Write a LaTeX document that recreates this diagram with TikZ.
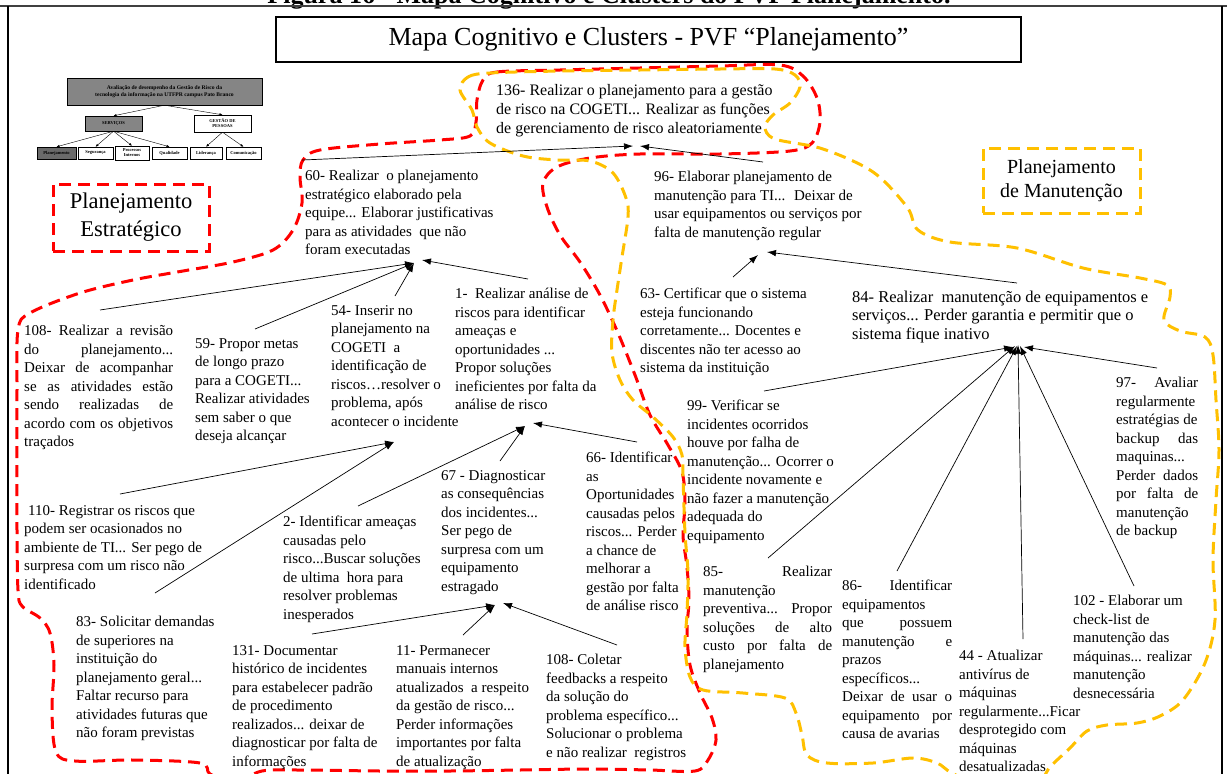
\documentclass[tikz,border=0pt]{standalone}
\usepackage{fontspec}
\setmainfont{Liberation Serif}
\usetikzlibrary{arrows.meta}
\definecolor{clred}{HTML}{FF0000}
\definecolor{clgold}{HTML}{FFC000}
\definecolor{boxgray}{HTML}{858585}
\definecolor{boxdark}{HTML}{6A6A6A}
% one justified line of a given width (pt)
\newcommand\jl[2]{\makebox[#1pt][s]{#2}}
\tikzset{
  txt/.style={anchor=north west, inner sep=0pt, align=left, font=\fontsize{15}{18.5}\selectfont},
  arr/.style={-{Latex[length=9pt,width=6.5pt]}, line width=0.7pt},
  redclu/.style={draw=clred, line width=3pt, dash pattern=on 12pt off 7pt},
  goldclu/.style={draw=clgold, line width=3pt, dash pattern=on 12pt off 7pt},
  orgbox/.style={draw, line width=0.4pt, inner sep=0pt, align=center, font=\fontsize{4.5}{5}\selectfont\bfseries},
  orgarr/.style={-{Latex[length=3pt,width=2.4pt]}, line width=0.4pt},
}
\begin{document}
\begin{tikzpicture}[x=1pt,y=-1pt]
\useasboundingbox (0,0) rectangle (1227,774);

% caption of the figure and frame
\node[anchor=base, font=\fontsize{26}{29}\selectfont\bfseries] (cap) at (609,3)
  {Figura 16 - Mapa Cognitivo e Clusters do PVF Planejamento.};
\draw[line width=1.5pt, black!75] (0,6) -- (1227,6);
\draw[line width=1.2pt] (8,6) -- (8,780);
\draw[line width=1.2pt] (1222,6) -- (1222,780);

% title
\node[draw, line width=1.1pt, minimum width=745pt, minimum height=45pt, inner sep=0pt,
      font=\fontsize{26}{30}\selectfont] (title) at (648.5,39.5)
  {Mapa Cognitivo e Clusters - PVF “Planejamento”};

% small hierarchy of the evaluation
\node[orgbox, fill=boxgray, minimum width=195pt, minimum height=27pt,
      font=\fontsize{5.6}{7}\selectfont\bfseries] (oTop) at (164.5,91.5)
  {Avaliação de desempenho da Gestão de Risco da\\tecnologia da informação na UTFPR campus Pato Branco};
\node[orgbox, fill=boxgray, minimum width=57pt, minimum height=15pt] (oServ) at (113.5,123.5) {SERVIÇOS};
\node[orgbox, fill=white, minimum width=57pt, minimum height=17pt] (oGest) at (222.5,123.5) {GESTÃO DE\\PESSOAS};
\node[orgbox, fill=boxdark, minimum width=39pt, minimum height=12pt] (oPlan) at (56.5,153) {Planejamento};
\node[orgbox, minimum width=35pt, minimum height=12pt] (oSeg) at (95.5,153) {Segurança};
\node[orgbox, minimum width=34pt, minimum height=14pt] (oProc) at (132,153) {Processos\\Internos};
\node[orgbox, minimum width=35pt, minimum height=12pt] (oQual) at (169.5,153) {Qualidade};
\node[orgbox, minimum width=32pt, minimum height=12pt] (oLid) at (206,153) {Liderança};
\node[orgbox, minimum width=35pt, minimum height=12pt] (oCom) at (243.5,153) {Comunicação};
\draw[orgarr] (oTop.south) -- (oServ.north);
\draw[orgarr] (oTop.south) -- (oGest.north);
\foreach \t in {oPlan,oSeg,oProc,oQual} \draw[orgarr] (oServ.south) -- (\t.north);
\foreach \t in {oLid,oCom} \draw[orgarr] (oGest.south) -- (\t.north);

% cluster labels
\node[redclu, minimum width=156pt, minimum height=67pt, inner sep=0pt, align=center,
      font=\fontsize{22.5}{28}\selectfont] (labE) at (131,217.5) {Planejamento\\Estratégico};
\node[goldclu, minimum width=157pt, minimum height=65pt, inner sep=0pt, align=center,
      font=\fontsize{20}{24}\selectfont] (labM) at (1061.5,180.5) {Planejamento\\de Manutenção};

% cluster boundaries
\draw[redclu] plot[smooth cycle, tension=0.55] coordinates {
  (483,80) (497,72) (560,70) (640,68) (720,66) (780,65) (803,76) (817,98) (820,122)
  (812,143) (790,151) (720,154) (640,154) (590,158) (557,167) (543,183) (547,207)
  (560,235) (580,262) (600,295) (618,333) (635,375) (650,415) (668,445) (682,472)
  (685,503) (683,535) (687,567) (689,600) (687,630) (690,665) (700,693) (712,718)
  (716,740) (708,760) (695,771) (650,770) (590,769) (520,770) (450,771) (380,771)
  (300,770) (262,771) (235,782) (210,774) (200,763) (133,760) (75,761) (56,752)
  (52,710) (54,665) (50,633) (40,618) (22,606) (18,590) (17,530) (17,460) (17,390)
  (18,330) (30,313) (80,293) (133,280) (183,271) (233,262) (273,250) (293,230)
  (302,203) (300,177) (303,160) (320,150) (380,144) (440,140) (470,136) (476,122)
  (477,100)};
\draw[goldclu] plot[smooth cycle, tension=0.55] coordinates {
  (460,90) (468,77) (490,73) (560,71) (640,70) (720,69) (775,69) (795,75) (800,87)
  (790,103) (773,115) (765,127) (775,139) (823,149) (873,172) (907,207) (918,230)
  (950,242) (1017,248) (1083,268) (1140,278) (1167,285) (1170,297) (1164,320)
  (1180,331) (1205,337) (1213,355) (1216,400) (1219,450) (1216,500) (1213,560)
  (1215,620) (1205,663) (1183,700) (1160,716) (1137,723) (1107,725) (1087,731)
  (1070,748) (1050,767) (1035,786) (990,790) (952,773) (937,763) (913,758)
  (873,763) (827,763) (807,755) (802,735) (796,713) (785,698) (743,693) (703,690)
  (690,677) (685,647) (687,613) (688,573) (685,533) (683,477) (682,455) (673,437)
  (653,417) (633,400) (620,380) (612,353) (613,320) (617,290) (622,257) (628,217)
  (626,198) (613,173) (590,161) (557,160) (523,156) (490,143) (477,127) (472,110)};

% concept nodes
\node[txt, font=\fontsize{16}{19}\selectfont] (n136) at (496,84) {136- Realizar o planejamento para a gestão\\
  de risco na COGETI... Realizar  as funções\\de gerenciamento de risco aleatoriamente};
\node[txt] (n60) at (305,170) {60- Realizar \ o planejamento\\estratégico elaborado pela\\
  equipe... Elaborar justificativas\\para as atividades \ que não\\foram executadas};
\node[txt] (n96) at (654,171) {96- Elaborar planejamento de\\manutenção para TI... \ Deixar de\\
  usar equipamentos ou serviços por\\falta de manutenção regular};
\node[txt] (n108a) at (24,325) {\jl{149}{108- Realizar a revisão}\\\jl{149}{do planejamento...}\\
  \jl{149}{Deixar de acompanhar}\\\jl{149}{se as atividades estão}\\
  \jl{149}{sendo realizadas de}\\\jl{149}{acordo com os objetivos}\\traçados};
\node[txt] (n59) at (195,338) {59- Propor metas\\de longo prazo\\para a COGETI...\\
  Realizar atividades\\sem saber o que\\deseja alcançar};
\node[txt] (n54) at (331,305) {54- Inserir no\\planejamento na\\COGETI \ a\\identificação de\\
  riscos…resolver o\\problema, após\\acontecer o incidente};
\node[txt] (n1) at (455,288) {1- \ Realizar análise de\\riscos para identificar\\ameaças e\\
  oportunidades ...\\Propor soluções\\ineficientes por falta da\\análise de risco};
\node[txt] (n63) at (640,288) {63- Certificar que o sistema\\esteja funcionando\\
  corretamente... Docentes e\\discentes não ter acesso ao\\sistema da instituição};
\node[txt, font=\fontsize{16.5}{18.3}\selectfont] (n84) at (852,291) {84- Realizar \ manutenção de equipamentos e\\
  serviços... Perder garantia e permitir que o\\sistema fique inativo};
\node[txt] (n99) at (687,400) {99- Verificar se\\incidentes ocorridos\\houve por falha de\\
  manutenção... Ocorrer o\\incidente novamente e\\não fazer a manutenção\\adequada do\\equipamento};
\node[txt] (n97) at (1116,377) {\jl{82}{97- Avaliar}\\regularmente\\estratégias de\\
  \jl{82}{backup das}\\maquinas...\\\jl{82}{Perder dados}\\\jl{82}{por falta de}\\manutenção\\de backup};
\node[txt] (n110) at (24,505) {\hspace*{4pt}110- Registrar os riscos que\\podem ser ocasionados no\\
  ambiente de TI... Ser pego de\\surpresa com um risco não\\identificado};
\node[txt] (n2) at (283,516) {2- Identificar ameaças\\causadas pelo\\risco...Buscar soluções\\
  de ultima \ hora para\\resolver problemas\\inesperados};
\node[txt] (n67) at (441,470) {67 - Diagnosticar\\as consequências\\dos incidentes...\\
  Ser pego de\\surpresa com um\\equipamento\\estragado};
\node[txt] (n66) at (586,452) {66- Identificar\\as\\Oportunidades\\causadas pelos\\
  riscos... Perder\\a chance de\\melhorar a\\gestão por falta\\de análise risco};
\node[txt] (n83) at (76,616) {83- Solicitar demandas\\de superiores na\\instituição do\\
  planejamento geral...\\Faltar recurso para\\atividades futuras que\\não foram previstas};
\node[txt] (n131) at (232,645) {131- Documentar\\histórico de incidentes\\para estabelecer padrão\\
  de procedimento\\realizados... deixar de\\diagnosticar por falta de\\informações};
\node[txt] (n11) at (396,645) {11- Permanecer\\manuais internos\\atualizados \ a respeito\\
  da gestão de risco...\\Perder informações\\importantes por falta\\de atualização};
\node[txt] (n108b) at (546,654) {108- Coletar\\feedbacks a respeito\\da solução do\\
  problema específico...\\Solucionar o problema\\e não realizar \ registros};
\node[txt] (n85) at (703,566) {\jl{129}{85- Realizar}\\manutenção\\\jl{129}{preventiva... Propor}\\
  \jl{129}{soluções de alto}\\\jl{129}{custo por falta de}\\planejamento};
\node[txt] (n86) at (842,580) {\jl{110}{86- Identificar}\\equipamentos\\\jl{110}{que possuem}\\
  \jl{110}{manutenção e}\\prazos\\específicos...\\\jl{110}{Deixar de usar o}\\
  \jl{110}{equipamento por}\\causa de avarias};
\node[txt] (n44) at (959,650) {44 - Atualizar\\antivírus de\\máquinas\\regularmente...Ficar\\
  desprotegido com\\máquinas\\desatualizadas};
\node[txt] (n102) at (1073,595) {102 - Elaborar um\\check-list de\\manutenção das\\
  máquinas... realizar\\manutenção\\desnecessária};

% connector ends
\coordinate (s60) at (302,160);   \coordinate (s96) at (763,162);
\coordinate (t136a) at (633,146); \coordinate (t136b) at (640,146);
\coordinate (s108a) at (100,310); \coordinate (s59) at (255,329);
\coordinate (s54) at (395,296);   \coordinate (s1) at (528,279);
\coordinate (t60a) at (414,263);  \coordinate (t60b) at (422,260);
\coordinate (s63) at (733,277);   \coordinate (s84) at (1017,283);
\coordinate (t96a) at (758,255);  \coordinate (t96b) at (767,252);
\coordinate (s99) at (764,391);   \coordinate (s85) at (768,558);
\coordinate (s86) at (897,571);   \coordinate (s44) at (1023,639);
\coordinate (s102) at (1134,586); \coordinate (s97) at (1157,368);
\coordinate (t84) at (1018,347);
\coordinate (s110) at (120,494);  \coordinate (s83) at (155,593);
\coordinate (t54) at (394,442);
\coordinate (s2) at (358,506);    \coordinate (s67) at (500,461);
\coordinate (s66) at (637,442);
\coordinate (t1a) at (525,426);   \coordinate (t1b) at (533,423);
\coordinate (s131) at (312,634);  \coordinate (s11) at (463,635);
\coordinate (s108b) at (617,645);
\coordinate (t67a) at (495,605);  \coordinate (t67b) at (503,603);

% connectors
\draw[arr] (s60) -- (t136a);
\draw[arr] (s96) -- (t136b);
\draw[arr] (s108a) -- (t60a);
\draw[arr] (s59) -- (t60a);
\draw[arr] (s54) -- (t60a);
\draw[arr] (s1) -- (t60b);
\draw[arr] (s63) -- (t96a);
\draw[arr] (s84) -- (t96b);
\draw[arr] (s99) -- ([xshift=-5pt]t84);
\draw[arr] (s85) -- ([xshift=-3pt,yshift=1pt]t84);
\draw[arr] (s86) -- ([xshift=-1pt,yshift=1pt]t84);
\draw[arr] (s44) -- ([yshift=2pt]t84);
\draw[arr] (s102) -- ([xshift=2pt,yshift=1pt]t84);
\draw[arr] (s97) -- ([xshift=6pt]t84);
\draw[arr] (s110) -- (t54);
\draw[arr] (s83) -- (t54);
\draw[arr] (s2) -- (t1a);
\draw[arr] (s67) -- (t1a);
\draw[arr] (s66) -- (t1b);
\draw[arr] (s131) -- (t67a);
\draw[arr] (s11) -- (t67a);
\draw[arr] (s108b) -- (t67b);
\end{tikzpicture}
\end{document}
